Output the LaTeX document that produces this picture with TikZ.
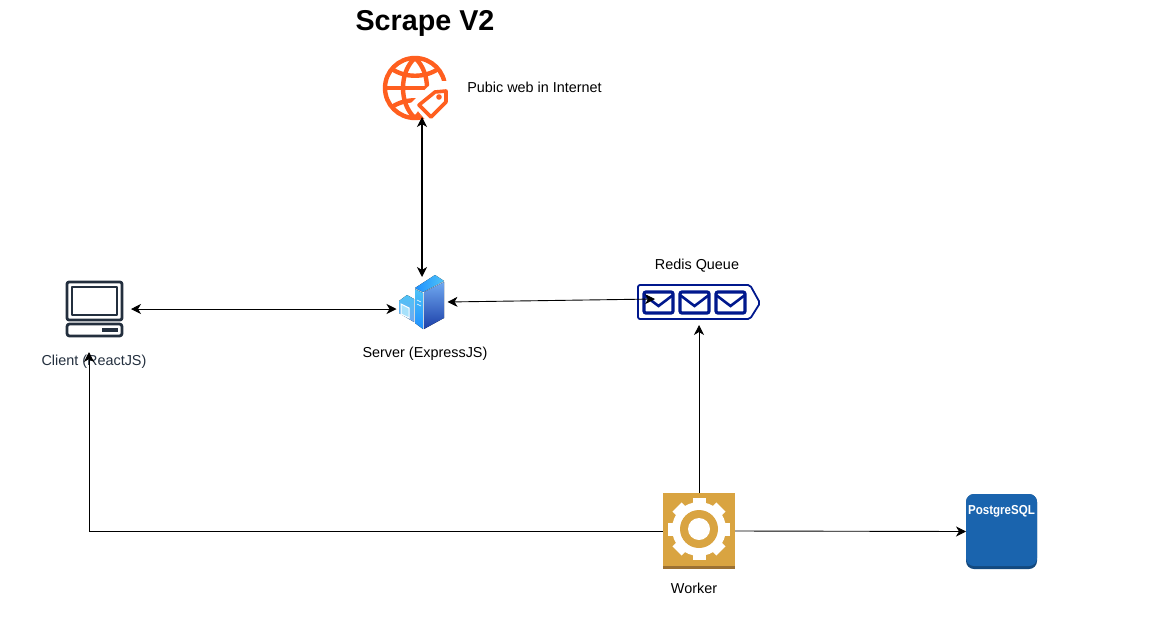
\documentclass[tikz,border=0pt]{standalone}
\usepackage{fontspec}
\setmainfont{Liberation Sans}
\usetikzlibrary{arrows.meta,positioning}
\definecolor{webc}{HTML}{FF5F1F}
\definecolor{pcc}{HTML}{232F3E}
\definecolor{queuec}{HTML}{00188D}
\definecolor{workerc}{HTML}{D9A441}
\definecolor{workerd}{HTML}{9C7133}
\definecolor{pgc}{HTML}{1A64AE}
\definecolor{pgd}{HTML}{13497F}
\definecolor{srva}{HTML}{1E90FF}
\definecolor{srvb}{HTML}{6FA8F0}
\definecolor{srvc}{HTML}{1C3FA8}
\definecolor{srvd}{HTML}{4FC3F7}

\begin{document}
\begin{tikzpicture}[x=1pt,y=-1pt,>={Stealth[length=10pt,width=10pt,inset=3pt]},line width=.9pt,
    spot/.style={minimum width=#1,inner sep=0pt,outer sep=0pt},
    lbl/.style={font=\fontsize{14.4}{16}\selectfont,inner sep=0pt}]
  \useasboundingbox[fill=white] (0,0) rectangle (1150,621);

  \node[font=\fontsize{28.7}{32}\selectfont\bfseries,inner sep=0pt] (title) at (425,23.5) {Scrape V2};

  % icons
  \begin{scope}[webc,line width=4.4pt]
    \draw (415,88) circle (30);
    \draw (415,58) .. controls (399,72) and (399,104) .. (415,118);
    \draw (415,58) .. controls (431,72) and (431,104) .. (415,118);
    \draw (385,88) -- (445,88);
    \draw (392,69) .. controls (405,78) and (425,78) .. (438,69);
    \draw (392,107) .. controls (405,98) and (425,98) .. (438,107);
    \fill[white] (411,103) -- (434,81) -- (452,81) -- (452,101) -- (429,124) -- cycle;
    \draw[line width=3.6pt,line join=round,fill=white] (419,105) -- (435,92) -- (446,91) -- (446,102) -- (431,117) -- cycle;
    \fill (439,97) circle (2.8);
  \end{scope}

  \begin{scope}[pcc,line width=2.8pt,line join=round]
    \draw[rounded corners=2pt] (67,282) rectangle (122,320);
    \draw[line width=2.4pt] (72,287) rectangle (117,315);
    \draw[rounded corners=2.5pt] (67,324) rectangle (122,336);
    \fill (102,328) rectangle (118,332);
  \end{scope}

  \fill[top color=srvb,bottom color=srvc] (424,292) -- (444,282) -- (444,318) -- (424,329) -- cycle;
  \fill[left color=srva,right color=srvd] (415,288) -- (435,275) -- (444,281) -- (423,292) -- cycle;
  \fill[top color=srvd,bottom color=srva] (415,289) -- (423,293) -- (423,329) -- (415,323) -- cycle;
  \fill[top color=srvd,bottom color=srvb] (399,301) -- (407,295) -- (414,299) -- (414,322) -- (399,313) -- cycle;
  \draw[white,fill=srvd!50,line width=1pt] (401,304) -- (409,308) -- (409,318) -- (401,314) -- cycle;
  \draw[white,line width=.6pt] (417,300) -- (421,302) (417,304) -- (421,306);

  \begin{scope}[queuec,line width=1.8pt]
    \draw[rounded corners=2pt] (638,285) -- (750,285) -- (760,303) -- (750,319) -- (638,319) -- cycle;
    \foreach \ex in {643,679,715} {
      \draw[line width=3.2pt,rounded corners=2pt,fill=white] (\ex+1,292) rectangle (\ex+30,313);
      \draw[line width=2.6pt] (\ex+1,295) -- (\ex+15.5,306) -- (\ex+30,295);
    }
  \end{scope}

  \fill[workerc] (663,493) rectangle (735,569);
  \fill[workerd] (663,566) rectangle (735,569);
  \fill[white] (699,529) circle (27);
  \foreach \ang in {0,45,...,315}
    \fill[white,rotate around={\ang:(699,529)}] (692.5,498) rectangle (705.5,510);
  \fill[workerc] (699,529) circle (19);
  \fill[white] (699,529) circle (11);

  \fill[pgd,rounded corners=8pt] (966,494) rectangle (1037,569);
  \fill[pgc,rounded corners=8pt] (966,494) rectangle (1037,566);

  % nodes
  \node[spot=74pt,minimum height=86pt] (client) at (94,309) {};
  \node[spot=51pt,minimum height=50pt] (server) at (422,302) {};
  \node[spot=64pt,minimum height=58pt] (globe) at (415,88) {};
  \node[spot=122pt,minimum height=36pt] (queue) at (699,307) {};
  \node[spot=72pt,minimum height=76pt] (worker) at (699,531) {};
  \node[spot=71pt,minimum height=75pt] (postgres) at (1001.5,531.5) {};
  \coordinate (qin) at (655,299);

  \node[lbl] (weblbl) at (534.5,87.5) {Pubic web in Internet};
  \node[lbl,text=pcc] (clientlbl) at (94,362) {Client (ReactJS)};
  \node[lbl] (serverlbl) at (425,354) {Server (ExpressJS)};
  \node[lbl] (queuelbl) at (697,266) {Redis Queue};
  \node[lbl] (workerlbl) at (694,588) {Worker};
  \node[white,inner sep=0pt,font=\fontsize{13}{14}\selectfont\bfseries] (pglbl) at (1001.5,511) {\scalebox{.89}[1]{PostgreSQL}};

  % connectors
  \draw[<->,line width=1.3pt] (server.north) -- (server.north |- globe.south);
  \draw[<->] (client.east) -- (client.east -| server.west);
  \draw[<->] (server.east) -- (qin);
  \draw[->] (worker.north) -- (queue.south);
  \draw[->] (worker.west) -| ([xshift=-5pt]client.south);
  \draw[->] (worker.east) -- (postgres.west);
\end{tikzpicture}
\end{document}
